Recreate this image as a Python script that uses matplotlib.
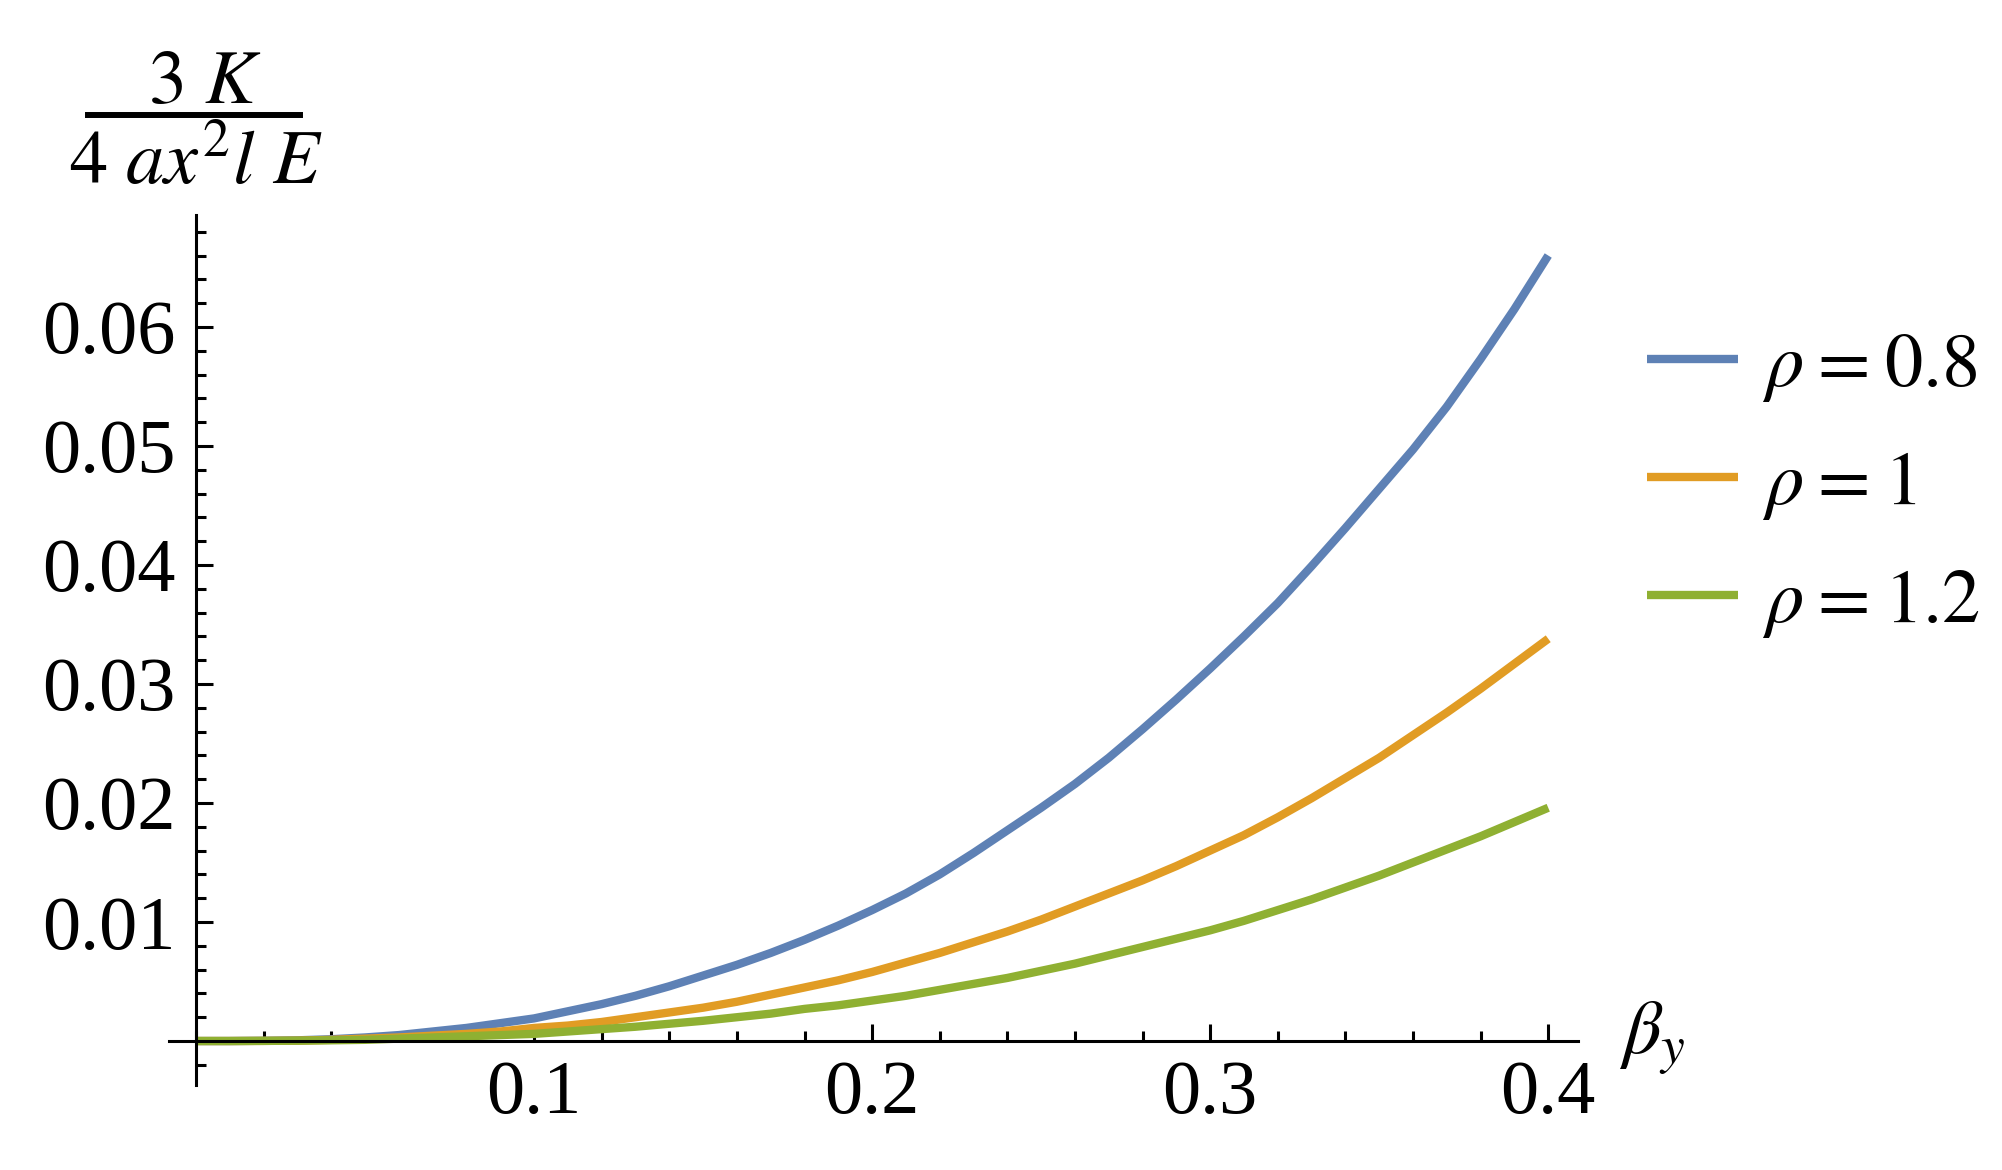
import matplotlib.pyplot as plt
from matplotlib.ticker import MultipleLocator
from matplotlib.lines import Line2D

plt.rcParams['font.family'] = 'serif'
plt.rcParams['font.serif'] = ['Liberation Serif', 'DejaVu Serif']
plt.rcParams['mathtext.fontset'] = 'stix'

# values (step 0.01)
beta = [0.00, 0.01, 0.02, 0.03, 0.04, 0.05, 0.06, 0.07, 0.08, 0.09, 0.10,
        0.11, 0.12, 0.13, 0.14, 0.15, 0.16, 0.17, 0.18, 0.19, 0.20,
        0.21, 0.22, 0.23, 0.24, 0.25, 0.26, 0.27, 0.28, 0.29, 0.30,
        0.31, 0.32, 0.33, 0.34, 0.35, 0.36, 0.37, 0.38, 0.39, 0.40]
k_rho08 = [0.0, 0.0, 0.00002, 0.00006, 0.00015, 0.0003, 0.0005, 0.0008, 0.0011, 0.0015, 0.0019,
           0.0025, 0.0031, 0.0038, 0.0046, 0.0055, 0.0064, 0.0074, 0.0085, 0.0097, 0.0110,
           0.0124, 0.0140, 0.0158, 0.0177, 0.0196, 0.0216, 0.0238, 0.0262, 0.0287, 0.0313,
           0.0340, 0.0368, 0.0399, 0.0431, 0.0464, 0.0497, 0.0533, 0.0573, 0.0615, 0.0660]
k_rho10 = [0.0, 0.0, 0.00001, 0.00003, 0.0001, 0.0002, 0.0003, 0.00045, 0.0006, 0.0008, 0.0011,
           0.0013, 0.0016, 0.0020, 0.0024, 0.0028, 0.0033, 0.0039, 0.0045, 0.0051, 0.0058,
           0.0066, 0.0074, 0.0083, 0.0092, 0.0102, 0.0113, 0.0124, 0.0135, 0.0147, 0.0160,
           0.0173, 0.0188, 0.0204, 0.0221, 0.0238, 0.0257, 0.0276, 0.0296, 0.0317, 0.0338]
k_rho12 = [0.0, 0.0, 0.00001, 0.00003, 0.00006, 0.0001, 0.0002, 0.0003, 0.0004, 0.0005, 0.0006,
           0.0008, 0.0010, 0.0012, 0.00145, 0.0017, 0.0020, 0.0023, 0.0027, 0.0030, 0.0034,
           0.0038, 0.0043, 0.0048, 0.0053, 0.0059, 0.0065, 0.0072, 0.0079, 0.0086, 0.0093,
           0.0101, 0.0110, 0.0119, 0.0129, 0.0139, 0.0150, 0.0161, 0.0172, 0.0184, 0.0196]

series_labels = [r'$\rho\hspace{0.06}=\hspace{0.06}0.8$',
                 r'$\rho\hspace{0.06}=\hspace{0.06}1$',
                 r'$\rho\hspace{0.06}=\hspace{0.06}1.2$']
colors = ['#5E81B5', '#E19C24', '#8FB032']

xticks = [0.1, 0.2, 0.3, 0.4]
xticklabels = ['0.1', '0.2', '0.3', '0.4']
yticks = [0.01, 0.02, 0.03, 0.04, 0.05, 0.06]
yticklabels = ['0.01', '0.02', '0.03', '0.04', '0.05', '0.06']

fig = plt.figure(figsize=(20.02, 11.70), dpi=100)
ax = fig.add_axes([0.0844, 0.0726, 0.7038, 0.7436])

for ys, lab, c in zip([k_rho08, k_rho10, k_rho12], series_labels, colors):
    ax.plot(beta, ys, color=c, lw=6, label=lab, solid_capstyle='butt',
            solid_joinstyle='round')

ax.set_xlim(-0.008, 0.4088)
ax.set_ylim(-0.0037, 0.0694)

# axes through the origin, Mathematica style
for s in ['top', 'right']:
    ax.spines[s].set_visible(False)
for s in ['left', 'bottom']:
    ax.spines[s].set_position(('data', 0))
    ax.spines[s].set_linewidth(2.2)

ax.set_xticks(xticks)
ax.set_xticklabels(xticklabels)
ax.set_yticks(yticks)
ax.set_yticklabels(yticklabels)
ax.xaxis.set_minor_locator(MultipleLocator(0.02))
ax.yaxis.set_minor_locator(MultipleLocator(0.002))
ax.tick_params(which='both', direction='in', width=2.2, labelsize=55)
ax.tick_params(which='major', length=12)
ax.tick_params(which='minor', length=7)
ax.tick_params(axis='x', pad=14)
ax.tick_params(axis='y', pad=15)

ax.legend(loc='center left', bbox_to_anchor=(0.8227, 0.5846),
          bbox_transform=fig.transFigure, frameon=False, fontsize=55,
          handlelength=1.19, handletextpad=0.31, labelspacing=0.6,
          borderpad=0, borderaxespad=0)

# axis labels
fig.text(1619 / 2002, 0.1, r'$\beta_y$', fontsize=55, ha='left', va='baseline')
fig.text(205 / 2002, 1 - 103 / 1170, r'$3\ K$', fontsize=55, ha='center', va='baseline')
fig.text(196 / 2002, 1 - 183 / 1170, r'$4\ a x^{2} l\ E$', fontsize=55,
         ha='center', va='baseline')
fig.add_artist(Line2D([88 / 2002, 300 / 2002], [1 - 115 / 1170] * 2,
                      color='black', lw=4.3))

fig.savefig('out.png', dpi=100)
